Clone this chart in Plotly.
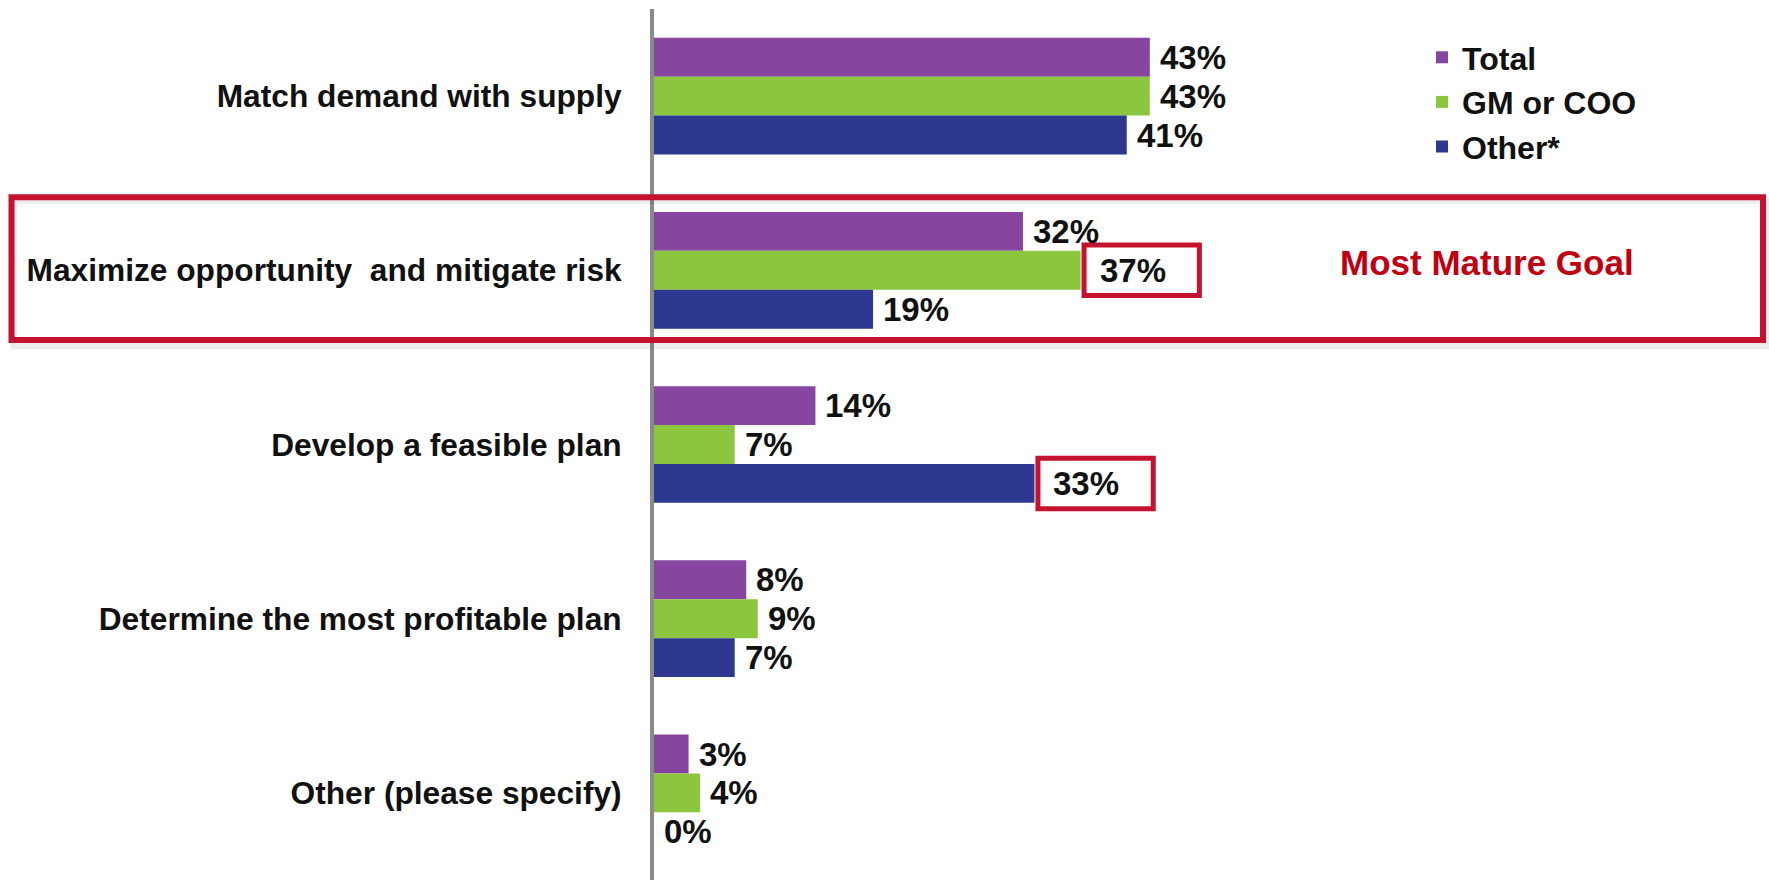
import plotly.graph_objects as go

categories = [
    "Match demand with supply",
    "Maximize opportunity  and mitigate risk",
    "Develop a feasible plan",
    "Determine the most profitable plan",
    "Other (please specify)",
]
series_names = ["Total", "GM or COO", "Other*"]
total = [43, 32, 14, 8, 3]
gm_coo = [43, 37, 7, 9, 4]
other = [41, 19, 33, 7, 0]
colors = ["#8646A0", "#8CC63F", "#2D3990"]

series_values = [total, gm_coo, other]
highlight = [(1, 1), (2, 2)]  # (series index, category index) boxed labels
highlight_category = 1
callout_text = "Most Mature Goal"

FONT = "Arial, Liberation Sans, sans-serif"
BOX_RED = "#C41230"

W, H = 1769, 880
L, T = 654, 9
px_per_pct = 11.53
x_max = (W - L) / px_per_pct
bargap = 0.33
bw = (1 - bargap) / 3

fig = go.Figure()
for name, vals, col in zip(series_names, series_values, colors):
    fig.add_trace(go.Bar(
        y=categories, x=vals, name=name, orientation="h",
        marker=dict(color=col, line=dict(width=0)),
        hoverinfo="skip",
    ))

annotations = []
shapes = []
for k, vals in enumerate(series_values):
    for i, v in enumerate(vals):
        boxed = (k, i) in highlight
        annotations.append(dict(
            x=v, y=i + (k - 1) * bw, xref="x", yref="y",
            text=f"<b>{v}%</b>", showarrow=False, xanchor="left", yanchor="middle",
            xshift=17 if boxed else 8,
            font=dict(family=FONT, size=33, color="#111111"),
        ))
        if boxed:
            shapes.append(dict(
                type="rect", xref="x", yref="y", layer="above",
                x0=v + 0.3, x1=v + 10.3,
                y0=i + (k - 1) * bw - 0.145, y1=i + (k - 1) * bw + 0.145,
                line=dict(color=BOX_RED, width=5), fillcolor="rgba(255,255,255,0)",
            ))

# big highlight box around "Maximize ..." row
bx0 = (11.5 - L) / (W - L)
bx1 = (1763 - L) / (W - L)
shapes.insert(0, dict(
    type="rect", xref="paper", yref="y", layer="above",
    x0=bx0 + 0.002, x1=bx1 + 0.003,
    y0=highlight_category - 0.40, y1=highlight_category + 0.435,
    line=dict(color="rgba(0,0,0,0.07)", width=7), fillcolor="rgba(0,0,0,0)",
))
shapes.insert(1, dict(
    type="rect", xref="paper", yref="y", layer="above",
    x0=bx0, x1=bx1,
    y0=highlight_category - 0.42, y1=highlight_category + 0.40,
    line=dict(color=BOX_RED, width=6), fillcolor="rgba(0,0,0,0)",
))

annotations.append(dict(
    x=(1487 - L) / (W - L), y=highlight_category, xref="paper", yref="y",
    yshift=8, text=f"<b>{callout_text}</b>", showarrow=False,
    xanchor="center", yanchor="middle",
    font=dict(family=FONT, size=35, color="#C00010"),
))

fig.update_layout(
    width=W, height=H,
    margin=dict(l=L, r=0, t=T, b=0, pad=0),
    paper_bgcolor="white", plot_bgcolor="white",
    barmode="group", bargap=bargap, bargroupgap=0,
    showlegend=True,
    legend=dict(
        x=(1422 - L) / (W - L), y=1 - (30 - T) / (H - T),
        xanchor="left", yanchor="top",
        font=dict(family=FONT, size=32, color="#111111", weight="bold"),
        bgcolor="rgba(0,0,0,0)", tracegroupgap=0,
    ),
    xaxis=dict(range=[0, x_max], showgrid=False, zeroline=False,
               showticklabels=False, showline=False, ticks=""),
    yaxis=dict(autorange="reversed", showgrid=False, zeroline=False,
               showline=True, linecolor="#8A8A8A", linewidth=4,
               ticks="", ticklabelstandoff=22,
               tickfont=dict(family=FONT, size=31.7, color="#111111", weight="bold")),
    shapes=shapes,
    annotations=annotations,
    font=dict(family=FONT),
)

fig.write_html("out.html")
